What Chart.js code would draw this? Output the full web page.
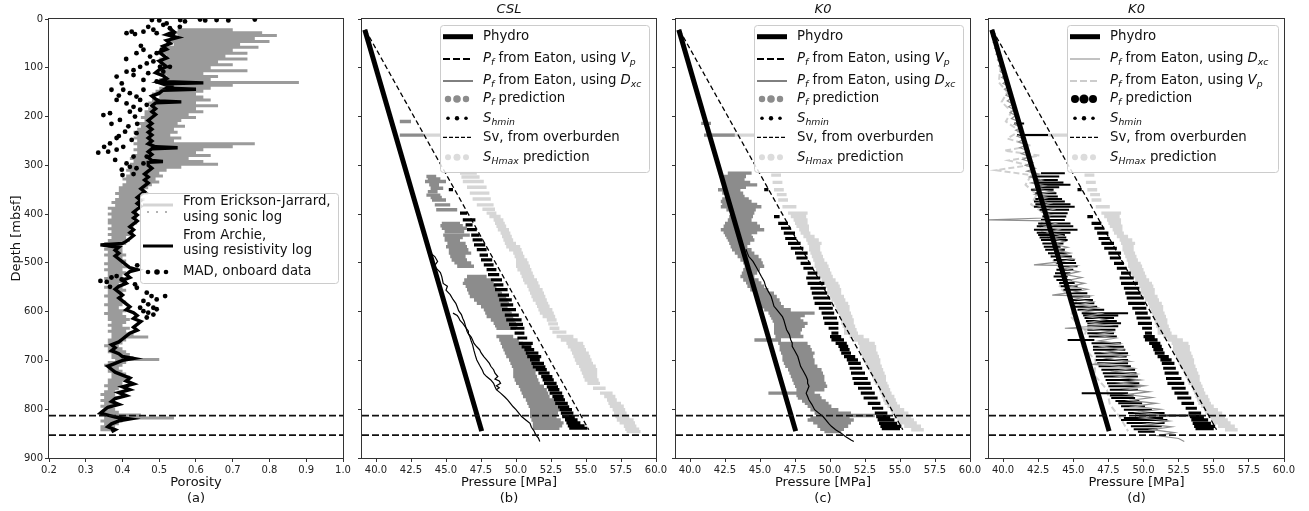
<!DOCTYPE html>
<html>
<head>
<meta charset="utf-8">
<script src="https://cdn.jsdelivr.net/npm/chart.js@4.4.1/dist/chart.umd.min.js"></script>
<style>
  html, body { margin: 0; padding: 0; background: #fff; }
  #wrap { position: relative; width: 1309px; height: 511px; overflow: hidden; }
  canvas { position: absolute; top: 0; }
</style>
</head>
<body>
<div id="wrap">
  <canvas id="pa" width="360" height="511" style="left:0px"></canvas>
  <canvas id="pb" width="340" height="511" style="left:340px"></canvas>
  <canvas id="pc" width="340" height="511" style="left:654px"></canvas>
  <canvas id="pd" width="342" height="511" style="left:967px"></canvas>
</div>
<script>
// ---- ticks / limits ----
const depthTicks = [0, 100, 200, 300, 400, 500, 600, 700, 800, 900];
const porosityTicks = [0.2, 0.3, 0.4, 0.5, 0.6, 0.7, 0.8, 0.9, 1.0];
const pressureTicks = [40, 42.5, 45, 47.5, 50, 52.5, 55, 57.5, 60];
const cutDepths = [813, 853];

// ---- panel (a): porosity  [depth, lo, hi] / [depth, value] ----
const ejRows = [
  [22,0.55,0.70],[28,0.54,0.78],[34,0.55,0.82],[40,0.53,0.76],[46,0.52,0.80],[52,0.54,0.72],[58,0.52,0.77],
  [64,0.50,0.70],[70,0.51,0.74],[76,0.52,0.68],[82,0.50,0.74],[88,0.51,0.66],[94,0.50,0.70],[100,0.52,0.64],
  [106,0.50,0.74],[112,0.51,0.62],[118,0.52,0.66],[124,0.50,0.64],[130,0.51,0.88],[136,0.52,0.70],[142,0.50,0.64],
  [148,0.49,0.62],[154,0.48,0.60],[160,0.50,0.62],[166,0.48,0.64],[172,0.47,0.60],[178,0.48,0.66],[184,0.47,0.60],
  [190,0.46,0.62],[196,0.46,0.58],[202,0.45,0.60],[208,0.46,0.56],[214,0.44,0.55],[220,0.45,0.57],[226,0.44,0.54],
  [232,0.43,0.55],[238,0.44,0.53],[244,0.43,0.56],[250,0.44,0.54],[256,0.43,0.76],[262,0.44,0.70],[268,0.43,0.62],
  [274,0.44,0.60],[280,0.43,0.64],[286,0.42,0.58],[292,0.43,0.62],[298,0.42,0.66],[304,0.42,0.56],[310,0.41,0.52],
  [316,0.42,0.50],[322,0.41,0.51],[328,0.40,0.49],[334,0.41,0.50],[340,0.40,0.48],[346,0.39,0.47],[352,0.39,0.46],
  [358,0.38,0.47],[364,0.39,0.45],[370,0.38,0.46],[376,0.37,0.45],[382,0.38,0.44],[388,0.36,0.45],[394,0.37,0.44],
  [400,0.36,0.43],[406,0.37,0.44],[412,0.36,0.43],[418,0.36,0.44],[424,0.37,0.43],[430,0.36,0.42],[436,0.37,0.43],
  [442,0.36,0.42],[448,0.37,0.41],[454,0.36,0.42],[460,0.35,0.41],[466,0.36,0.40],[472,0.35,0.40],[478,0.36,0.40],
  [484,0.35,0.41],[490,0.36,0.40],[496,0.36,0.41],[502,0.35,0.40],[508,0.36,0.42],[514,0.35,0.40],[520,0.36,0.41],
  [526,0.36,0.40],[532,0.35,0.41],[538,0.36,0.40],[544,0.36,0.39],[550,0.35,0.40],[556,0.36,0.41],[562,0.36,0.40],
  [568,0.35,0.39],[574,0.36,0.40],[580,0.36,0.41],[586,0.35,0.40],[592,0.36,0.39],[598,0.36,0.41],[604,0.35,0.40],
  [610,0.36,0.41],[616,0.36,0.42],[622,0.37,0.41],[628,0.36,0.40],[634,0.37,0.42],[640,0.36,0.41],[646,0.37,0.43],
  [652,0.37,0.47],[658,0.36,0.41],[664,0.36,0.40],[670,0.35,0.39],[676,0.36,0.40],[682,0.36,0.41],[688,0.37,0.42],
  [694,0.37,0.43],[698,0.38,0.50],[704,0.36,0.41],[710,0.35,0.40],[716,0.36,0.39],[722,0.36,0.40],[728,0.37,0.41],
  [734,0.37,0.42],[740,0.36,0.41],[746,0.36,0.40],[752,0.35,0.40],[758,0.36,0.39],[764,0.35,0.38],[770,0.34,0.38],
  [776,0.35,0.39],[782,0.34,0.38],[788,0.35,0.38],[794,0.34,0.37],[800,0.35,0.38],[806,0.34,0.39],[812,0.35,0.45],
  [818,0.35,0.54],[824,0.34,0.40],[830,0.35,0.39],[836,0.34,0.38],[842,0.34,0.37]
];
const archieRows = [
  [20,0.53],[26,0.54],[32,0.52],[38,0.55],[44,0.52],[50,0.53],[56,0.51],[62,0.52],[68,0.50],[74,0.51],[80,0.52],
  [86,0.50],[92,0.51],[98,0.52],[104,0.50],[110,0.49],[116,0.51],[122,0.52],[128,0.50],[131,0.62],[133,0.51],
  [138,0.53],[142,0.52],[144,0.60],[146,0.51],[152,0.50],[158,0.48],[164,0.49],[168,0.50],[170,0.56],[172,0.49],
  [178,0.48],[184,0.49],[190,0.48],[196,0.49],[202,0.48],[208,0.47],[214,0.48],[220,0.47],[226,0.48],[232,0.47],
  [238,0.48],[244,0.47],[250,0.48],[256,0.47],[262,0.49],[264,0.55],[266,0.48],[272,0.47],[278,0.48],[284,0.47],
  [290,0.48],[292,0.51],[294,0.47],[300,0.47],[306,0.48],[312,0.47],[318,0.46],[324,0.47],[330,0.46],[336,0.47],
  [342,0.46],[348,0.45],[354,0.46],[360,0.45],[366,0.44],[372,0.45],[378,0.44],[384,0.45],[390,0.44],[396,0.43],
  [402,0.44],[408,0.43],[414,0.44],[420,0.43],[426,0.42],[432,0.43],[438,0.42],[444,0.43],[450,0.42],[456,0.41],
  [460,0.40],[463,0.34],[465,0.36],[468,0.39],[474,0.38],[480,0.39],[486,0.38],[492,0.39],[498,0.40],[504,0.41],
  [510,0.42],[514,0.44],[518,0.42],[524,0.41],[530,0.42],[536,0.40],[542,0.41],[548,0.39],[554,0.38],[560,0.39],
  [566,0.40],[572,0.39],[578,0.40],[584,0.41],[590,0.42],[596,0.41],[602,0.43],[608,0.44],[614,0.43],[620,0.45],
  [626,0.44],[632,0.43],[638,0.44],[644,0.42],[650,0.41],[656,0.40],[662,0.39],[668,0.37],[674,0.38],[680,0.37],
  [686,0.39],[692,0.40],[696,0.43],[700,0.40],[706,0.38],[712,0.36],[718,0.37],[724,0.38],[730,0.40],[736,0.42],
  [742,0.41],[748,0.43],[754,0.40],[760,0.42],[766,0.39],[772,0.41],[778,0.38],[784,0.37],[790,0.39],[796,0.36],
  [802,0.35],[808,0.34],[812,0.36],[816,0.38],[820,0.42],[824,0.39],[830,0.37],[836,0.36],[842,0.38],[846,0.37]
];
const madRows = [
  [2,0.48],[3,0.50],[9,0.52],[2,0.557],[5,0.57],[1,0.611],[3,0.625],[2,0.656],[3,0.688],[1,0.76],
  [29,0.411],[26,0.425],[31,0.434],[26,0.457],[16,0.47],[22,0.484],[29,0.493],[12,0.511],[19,0.529],[29,0.538],[16,0.556],
  [70,0.438],[63,0.457],[77,0.475],[70,0.493],[63,0.507],[91,0.466],[87,0.484],[98,0.502],[55,0.45],[82,0.41],[105,0.43],
  [118,0.384],[132,0.398],[108,0.411],[115,0.43],[98,0.448],[125,0.457],[111,0.47],[128,0.493],[108,0.511],[98,0.529],
  [145,0.37],[145,0.402],[152,0.42],[159,0.438],[145,0.457],[166,0.384],[173,0.411],[180,0.43],[166,0.448],[176,0.466],
  [157,0.39],[190,0.42],[197,0.348],[193,0.366],[207,0.393],[220,0.416],[200,0.434],[186,0.448],[231,0.407],[215,0.37],
  [215,0.44],[240,0.39],[244,0.384],[255,0.366],[274,0.334],[272,0.361],[268,0.384],[262,0.402],[248,0.425],[234,0.438],
  [282,0.43],[296,0.411],[289,0.38],[262,0.35],[309,0.398],[303,0.42],[306,0.438],[296,0.457],[282,0.466],[320,0.40],
  [318,0.43],[539,0.357],[530,0.37],[527,0.384],[534,0.398],[549,0.366],[541,0.407],[544,0.434],[551,0.439],[505,0.44],
  [561,0.466],[568,0.479],[575,0.493],[568,0.516],[578,0.457],[585,0.47],[592,0.484],[595,0.493],[592,0.448],[599,0.457],
  [602,0.47],[606,0.484],[612,0.466],[537,0.34]
];

// ---- pressure panels: [depth, MPa] lines and [depth, lo, hi] streaks ----
const hydroRows = [[22, 39.2], [845, 47.55]];
const svRows = [[22, 39.24], [842, 55.2]];

const pfCslRows = [
  [210,41.7,42.5],[238,41.7,43.4],[323,43.6,44.3],[328,43.7,44.6],[333,43.5,45.0],[340,43.8,44.5],[347,43.9,44.8],
  [354,43.7,44.4],[361,43.6,44.6],[366,43.9,44.7],[371,44.0,45.0],[381,44.2,45.3],[391,44.3,45.8],[419,44.7,46.0],
  [424,44.6,46.2],[429,44.7,46.5],[436,44.9,46.3],[443,44.8,46.7],[448,44.9,46.2],[453,44.9,46.0],[460,45.1,46.4],
  [467,45.0,46.5],[473,45.2,46.6],[480,45.2,46.8],[487,45.3,46.4],[494,45.4,46.5],[500,45.6,46.8],[507,45.8,47.0],
  [528,46.5,47.9],[535,46.3,48.2],[542,46.2,48.4],[548,46.4,48.6],[555,46.5,48.9],[562,46.6,49.0],[569,46.7,49.3],
  [576,47.0,49.4],[583,47.2,49.5],[590,47.5,49.4],[596,47.7,49.6],[603,47.8,49.7],[610,47.9,49.8],[617,48.2,49.9],
  [624,48.4,50.0],[629,48.5,50.1],[634,48.6,50.0],[651,48.6,49.8],[658,48.8,50.2],[665,48.9,50.5],[672,49.0,50.6],
  [678,49.1,50.8],[685,49.2,50.9],[692,49.3,51.0],[699,49.5,51.1],[706,49.6,51.2],[712,49.7,51.3],[719,49.8,51.4],
  [726,49.8,51.4],[733,49.8,51.5],[740,49.9,51.6],[747,50.0,51.7],[753,50.2,52.0],[760,50.3,52.2],[767,50.4,52.3],
  [774,50.5,52.4],[781,50.7,52.7],[788,50.8,52.9],[794,50.9,53.0],[801,51.0,53.1],[808,51.0,53.0],[815,51.0,52.9],
  [822,51.1,53.2],[828,51.2,53.4],[834,51.2,53.3],[839,51.2,53.1]
];
const shminCslRows = [
  [350,45.2,45.5],[398,46.0,46.5],[412,46.2,47.1],[422,46.4,46.9],[432,46.5,47.2],[443,46.8,47.4],[453,46.9,47.6],
  [463,47.0,47.8],[473,47.2,47.9],[484,47.4,48.0],[494,47.5,48.3],[504,47.7,48.4],[514,47.9,48.6],[524,48.0,48.8],
  [535,48.2,49.0],[545,48.4,49.1],[555,48.5,49.4],[566,48.7,49.5],[576,48.8,49.7],[586,48.9,49.8],[596,49.0,50.0],
  [607,49.2,50.2],[617,49.3,50.4],[626,49.5,50.5],[634,49.6,50.6],[644,49.9,50.6],[654,50.1,50.8],[665,50.2,51.2],
  [672,50.4,51.1],[678,50.6,51.3],[685,50.7,51.6],[692,50.8,51.8],[699,51.0,51.7],[706,51.1,52.0],[713,51.2,52.1],
  [719,51.4,52.2],[726,51.6,52.4],[733,51.8,52.6],[740,51.9,52.7],[747,52.0,52.9],[754,52.2,53.0],[760,52.3,53.1],
  [767,52.4,53.3],[774,52.6,53.4],[781,52.7,53.5],[788,52.8,53.7],[795,53.0,53.8],[801,53.1,54.0],[808,53.2,54.1],
  [815,53.3,54.2],[822,53.5,54.4],[828,53.6,54.6],[834,53.7,54.9],[839,53.8,55.1]
];
const shmaxCslRows = [
  [238,43.4,44.6],[316,46.0,47.2],[324,46.1,47.4],[333,46.2,47.7],[345,46.5,47.9],[357,46.7,48.1],[369,46.9,48.2],
  [381,47.2,48.4],[390,47.6,48.5],[398,47.9,48.6],[405,48.1,48.9],[412,48.4,49.1],[419,48.5,49.2],[425,48.6,49.3],
  [432,48.7,49.5],[439,48.9,49.6],[446,49.0,49.7],[453,49.1,49.8],[460,49.2,50.0],[467,49.3,50.3],[473,49.5,50.4],
  [480,49.8,50.5],[487,49.9,50.6],[494,50.0,50.8],[500,50.0,50.9],[507,50.0,51.0],[514,50.1,51.1],[521,50.3,51.2],
  [528,50.4,51.3],[535,50.5,51.5],[541,50.6,51.6],[548,50.8,51.7],[555,50.9,51.9],[562,51.0,52.0],[569,51.1,52.1],
  [576,51.2,52.2],[583,51.4,52.3],[589,51.5,52.4],[596,51.6,52.6],[603,51.7,52.7],[610,51.9,52.8],[617,52.2,52.9],
  [625,52.3,53.0],[634,52.4,53.1],[642,52.6,53.6],[651,52.9,54.1],[658,53.2,54.4],[665,53.6,54.8],[672,53.7,54.9],
  [678,53.9,55.0],[685,54.0,55.2],[692,54.1,55.3],[699,54.2,55.4],[706,54.3,55.5],[712,54.5,55.7],[719,54.6,55.8],
  [726,54.7,55.8],[733,54.8,55.8],[740,54.9,55.9],[747,55.1,56.0],[757,55.5,56.4],[767,56.0,56.9],[774,56.3,57.1],
  [781,56.5,57.2],[788,56.6,57.5],[794,56.7,57.7],[801,56.9,57.8],[808,57.0,57.9],[815,57.1,58.1],[822,57.2,58.4],
  [828,57.4,58.5],[835,57.7,58.6],[841,57.8,58.8],[846,57.9,58.9]
];
const dxcCslLeft = [
  [474,43.7],[480,43.9],[487,44.2],[497,44.4],[505,44.2],[511,44.3],[520,44.6],[528,44.7],[542,44.8],[548,45.1],
  [556,45.0],[565,45.3],[575,45.5],[583,45.7],[590,45.8],[598,45.9],[606,46.1],[614,46.2],[620,46.3],[630,46.4],
  [640,46.5],[651,46.7],[660,46.8],[668,46.9],[680,47.0],[690,47.1],[699,47.2],[710,47.4],[720,47.6],[727,47.7],
  [733,47.9],[740,48.2],[747,48.4],[754,48.5],[760,48.6],[767,48.9],[775,49.2],[781,49.4],[788,49.6],[795,49.8],
  [801,50.0],[808,50.2],[815,50.4],[822,50.7],[829,51.0],[837,51.1],[845,51.3],[852,51.4],[859,51.6],[866,51.7]
];
const dxcCslRight = [
  [603,45.5],[608,45.8],[612,45.9],[618,46.0],[624,46.2],[632,46.4],[640,46.6],[645,46.6],[652,46.8],[658,46.9],
  [665,47.0],[672,47.2],[678,47.4],[684,47.5],[692,47.7],[699,47.9],[706,48.1],[712,48.2],[719,48.4],[726,48.5],
  [733,48.7],[738,48.5],[742,48.8],[747,48.9],[752,48.6],[756,48.8],[760,48.6]
];

const pfK0Rows = [
  [214,40.8,41.5],[238,41.0,43.2],[316,42.7,44.4],[323,42.4,44.0],[330,42.2,43.9],[335,42.4,44.3],[340,42.5,44.8],
  [345,42.3,44.0],[350,42.0,43.6],[357,42.3,43.8],[364,42.5,43.9],[369,42.3,44.2],[374,42.2,44.4],[380,42.3,44.8],
  [385,42.2,45.1],[391,42.6,44.7],[398,42.9,44.6],[405,42.8,44.5],[412,42.7,44.4],[419,42.5,44.8],[425,42.4,45.0],
  [432,42.2,45.3],[438,42.4,44.8],[443,42.5,44.4],[448,42.6,44.5],[453,42.7,44.6],[460,42.8,44.3],[467,42.9,44.1],
  [473,43.0,44.4],[480,43.2,44.6],[487,43.4,44.9],[494,43.6,45.1],[500,43.8,45.2],[507,43.9,45.3],[514,43.8,45.0],
  [521,43.7,44.8],[528,43.6,44.6],[535,43.8,44.9],[541,44.0,45.1],[548,44.1,45.3],[555,44.3,45.6],[562,44.6,46.0],
  [569,44.7,46.2],[576,44.8,46.4],[583,44.8,46.5],[590,45.0,46.7],[596,45.3,47.2],[603,45.6,48.9],[608,45.7,48.2],
  [613,45.8,47.9],[619,45.9,48.1],[624,46.0,48.4],[630,46.0,48.2],[637,46.0,48.0],[644,46.0,47.9],[651,46.1,48.1],
  [658,44.6,46.5],[665,46.3,48.4],[672,46.4,48.6],[678,46.4,48.7],[685,46.5,48.9],[692,46.6,48.8],[699,46.6,48.9],
  [706,46.7,48.9],[712,46.8,49.1],[719,47.0,49.4],[726,47.1,49.5],[733,47.2,49.6],[740,47.3,49.6],[747,47.4,49.7],
  [753,47.5,49.8],[760,47.6,49.6],[767,45.6,48.9],[772,47.6,49.3],[777,47.7,49.4],[783,48.0,49.7],[788,48.2,49.9],
  [794,48.4,50.1],[801,48.6,50.6],[808,48.9,51.5],[813,49.4,53.2],[818,48.6,51.4],[822,48.4,51.7],[828,48.8,51.5],
  [835,49.1,51.3],[841,49.3,51.0],[846,49.6,50.8]
];
const shminK0Rows = [
  [350,45.3,45.6],[405,46.0,46.4],[419,46.3,47.0],[429,46.5,47.2],[439,46.7,47.5],[450,46.8,47.6],[460,47.0,47.9],
  [470,47.2,48.1],[480,47.5,48.4],[490,47.6,48.4],[501,47.9,48.6],[511,48.1,48.8],[521,48.4,49.1],[531,48.3,49.3],
  [542,48.4,49.6],[552,48.6,49.7],[562,48.7,49.8],[572,48.8,50.0],[583,48.9,50.1],[593,49.2,50.2],[603,49.4,50.3],
  [613,49.5,50.5],[624,49.6,50.6],[634,49.9,50.6],[644,50.1,50.6],[651,50.0,50.8],[658,50.1,51.0],[665,50.4,51.2],
  [671,50.6,51.3],[678,50.7,51.4],[685,50.8,51.5],[692,51.0,51.8],[699,51.2,52.0],[706,51.3,52.2],[716,51.4,52.3],
  [726,51.5,52.5],[737,51.6,52.7],[747,51.7,52.9],[757,52.0,53.0],[767,52.2,53.2],[777,52.4,53.4],[788,52.7,53.6],
  [798,53.0,53.8],[808,53.2,54.1],[815,53.3,54.3],[822,53.4,54.6],[829,53.5,54.8],[835,53.6,55.1],[840,53.7,55.0]
];
const shmaxK0Rows = [
  [238,41.3,44.6],[320,45.8,46.5],[335,45.9,46.6],[350,46.0,46.7],[360,46.2,46.9],[371,46.3,47.0],[385,46.6,47.6],
  [398,47.0,48.4],[405,47.2,48.3],[412,47.4,48.4],[419,47.5,48.4],[425,47.6,48.5],[432,47.8,48.5],[439,47.9,48.6],
  [446,48.1,48.9],[453,48.3,49.2],[460,48.4,49.4],[467,48.5,49.3],[473,48.5,49.3],[480,48.6,49.4],[487,48.7,49.5],
  [494,48.8,49.6],[501,48.9,49.8],[507,48.9,49.9],[514,49.0,50.0],[521,49.1,50.1],[528,49.2,50.2],[535,49.4,50.4],
  [542,49.6,50.6],[548,49.7,50.7],[555,49.8,50.8],[562,49.8,50.8],[569,50.0,51.0],[576,50.1,51.1],[583,50.3,51.3],
  [590,50.4,51.4],[596,50.5,51.4],[603,50.6,51.5],[610,50.7,51.6],[617,50.8,51.7],[624,50.8,51.7],[630,50.9,51.8],
  [637,51.0,51.9],[644,51.0,52.0],[651,51.4,52.4],[658,51.7,52.8],[665,52.0,53.2],[672,52.1,53.3],[678,52.1,53.3],
  [685,52.2,53.4],[692,52.3,53.5],[699,52.4,53.6],[706,52.5,53.6],[712,52.6,53.7],[719,52.8,53.8],[726,52.9,53.9],
  [733,53.0,54.0],[740,53.1,54.0],[747,53.2,54.1],[753,53.4,54.2],[760,53.5,54.3],[767,53.6,54.4],[774,53.7,54.6],
  [781,53.8,54.7],[788,53.9,54.8],[794,54.1,55.0],[801,54.3,55.3],[808,54.4,55.6],[815,54.6,55.8],[822,54.8,56.0],
  [828,55.0,56.2],[835,55.3,56.5],[842,55.8,56.7]
];
const dxcK0Rows = [
  [472,44.0],[480,44.1],[487,44.2],[497,44.5],[507,44.7],[517,44.9],[528,45.1],[538,45.3],[548,45.4],[559,45.6],
  [569,45.8],[579,45.9],[589,46.0],[596,46.2],[603,46.4],[610,46.6],[617,46.7],[627,46.8],[637,46.9],[647,47.1],
  [658,47.2],[664,47.3],[671,47.3],[681,47.5],[692,47.7],[702,47.8],[712,47.9],[722,48.1],[733,48.3],[740,48.4],
  [747,48.4],[753,48.5],[760,48.4],[767,48.3],[774,48.4],[781,48.5],[790,48.7],[801,48.9],[808,49.2],[815,49.5],
  [822,49.7],[829,49.9],[835,50.1],[842,50.4],[849,50.8],[856,51.1],[863,51.5],[866,51.7]
];
// panel (d) Eaton curves
const dxcDRows = [
  [22,39.2],[30,39.4],[36,39.2],[42,39.5],[48,39.3],[54,39.6],[60,39.4],[66,39.7],[72,39.5],[78,39.8],[84,39.6],
  [90,39.9],[96,39.7],[102,40.0],[108,39.8],[114,40.2],[120,39.9],[126,40.3],[132,40.0],[138,40.4],[144,40.1],
  [150,40.5],[156,40.2],[162,40.6],[168,40.3],[174,40.7],[180,40.4],[186,40.8],[192,40.5],[198,40.9],[204,40.6],
  [210,41.1],[216,40.8],[222,41.3],[228,40.9],[234,41.4],[240,41.0],[246,41.5],[252,41.1],[258,41.7],[264,41.2],
  [270,41.8],[276,41.3],[282,41.9],[288,41.4],[294,42.1],[300,41.6],[306,42.3],[312,41.7],[318,42.6],[324,41.9],
  [330,42.8],[336,42.0],[342,43.0],[348,42.2],[354,43.5],[360,42.3],[366,43.2],[372,42.5],[378,43.4],[384,42.6],
  [390,43.6],[396,42.8],[402,43.5],[408,42.9],[412,39.0],[414,43.1],[420,43.8],[426,43.0],[432,44.0],[438,43.2],
  [444,44.2],[450,43.4],[456,44.4],[462,43.5],[468,44.6],[474,43.7],[480,44.8],[486,43.9],[492,45.0],[498,44.0],
  [504,42.2],[506,45.2],[512,44.3],[518,45.4],[524,44.4],[530,45.6],[536,44.6],[542,45.8],[548,44.8],[554,46.0],
  [560,45.0],[566,43.5],[568,46.2],[574,45.2],[580,46.4],[586,45.4],[592,46.7],[598,45.6],[604,47.0],[610,45.9],
  [616,47.3],[622,46.1],[628,47.5],[634,44.4],[636,46.3],[642,47.8],[648,46.5],[654,48.0],[660,46.8],[666,48.3],
  [672,47.0],[678,48.5],[684,47.2],[690,48.8],[696,47.4],[702,49.0],[708,46.3],[710,47.6],[716,49.3],[722,47.9],
  [728,49.5],[734,48.1],[740,49.8],[746,48.3],[752,50.1],[758,48.6],[764,50.4],[770,48.8],[776,50.6],[782,49.0],
  [788,50.9],[794,49.3],[800,51.2],[806,49.6],[812,51.5],[818,49.9],[824,51.8],[830,50.2],[836,52.0],[842,50.6],
  [848,52.2],[854,51.0],[860,52.5],[866,52.9]
];
const vpDRows = [
  [22,39.2],[60,39.5],[100,39.8],[130,39.7],[150,40.3],[170,39.9],[190,40.6],[210,40.2],[230,41.2],[245,40.3],
  [260,42.0],[270,40.1],[280,42.6],[290,40.4],[300,41.8],[310,39.5],[320,42.0],[340,41.6],[360,42.4],[380,42.0],
  [400,43.0],[430,42.6],[460,43.6],[490,43.4],[520,44.4],[550,44.0],[580,45.2],[610,44.8],[640,45.9],[670,45.6],
  [700,46.6],[730,46.5],[760,47.4],[790,47.6],[820,48.4],[845,48.9]
];

// ---- helpers ----
Chart.defaults.font.family = "'DejaVu Sans', sans-serif";

const streaks = rows => {
  const out = [];
  rows.forEach(([d, lo, hi]) => out.push({x: lo, y: d}, {x: hi, y: d}, {x: NaN, y: NaN}));
  return out;
};
const pts = rows => rows.map(([d, v]) => ({x: v, y: d}));

function streakSet(rows, color, width, order) {
  return {data: streaks(rows), showLine: true, borderColor: color, borderWidth: width,
          pointRadius: 0, order: order, spanGaps: false};
}
function lineSet(rows, color, width, order, dash) {
  return {data: pts(rows), showLine: true, borderColor: color, borderWidth: width,
          pointRadius: 0, order: order, borderDash: dash || []};
}
function cutSets(xMin, xMax) {
  return cutDepths.map(d => ({data: [{x: xMin, y: d}, {x: xMax, y: d}], showLine: true,
    borderColor: '#111', borderWidth: 1.8, borderDash: [7, 3], pointRadius: 0, order: 0}));
}

function drawRich(ctx, segs, x, y, size) {
  let cx = x;
  segs.forEach(([t, st]) => {
    const it = st.includes('i'), sub = st.includes('s');
    const fs = sub ? size * 0.7 : size;
    ctx.font = (it ? 'italic ' : '') + fs + "px 'DejaVu Sans'";
    ctx.fillText(t, cx, y + (sub ? size * 0.3 : 0));
    cx += ctx.measureText(t).width;
  });
}
function drawHandle(ctx, h, x, y) {
  if (h.type === 'line') {
    ctx.beginPath();
    ctx.setLineDash(h.dash || []);
    ctx.lineWidth = h.width;
    ctx.strokeStyle = h.color;
    ctx.moveTo(x, y); ctx.lineTo(x + 30, y);
    ctx.stroke();
    ctx.setLineDash([]);
  } else {
    ctx.fillStyle = h.color;
    [5, 14, 23].forEach((dx, i) => {
      ctx.beginPath(); ctx.arc(x + dx, y, h.r[i], 0, Math.PI * 2); ctx.fill();
    });
  }
}

// frame + legend drawn on top of the chart
const panelDecor = {
  id: 'panelDecor',
  afterDraw(chart, args, opts) {
    const {ctx, chartArea: a} = chart;
    ctx.save();
    ctx.strokeStyle = '#333';
    ctx.lineWidth = 1;
    ctx.strokeRect(Math.round(a.left) - 0.5, Math.round(a.top) - 0.5,
                   Math.round(a.right - a.left) + 1, Math.round(a.bottom - a.top) + 1);
    const lg = opts.legend;
    if (lg) {
      const bx = a.right - lg.right - lg.width, by = a.top + lg.top;
      ctx.beginPath();
      ctx.roundRect(bx + 0.5, by + 0.5, lg.width, lg.height, 3);
      ctx.fillStyle = 'rgba(255,255,255,0.85)';
      ctx.fill();
      ctx.strokeStyle = '#cccccc';
      ctx.lineWidth = 1;
      ctx.stroke();
      ctx.textBaseline = 'middle';
      lg.entries.forEach(e => {
        e.handles.forEach(h => drawHandle(ctx, h, bx + 3, by + h.dy));
        e.lines.forEach(([segs, ly]) => { ctx.fillStyle = '#111'; drawRich(ctx, segs, bx + 43, by + ly, 13.3); });
      });
    }
    ctx.restore();
  }
};

const gridOpts = {drawOnChartArea: false, drawTicks: true, tickLength: 4, color: '#333', lineWidth: 1};

function makePanel(id, p) {
  new Chart(document.getElementById(id), {
    type: 'scatter',
    data: {datasets: p.datasets},
    plugins: [panelDecor],
    options: {
      responsive: false, animation: false, devicePixelRatio: 1, events: [],
      layout: {padding: {top: p.title ? 0 : 19, right: p.padRight, left: 0, bottom: 0}},
      plugins: {
        legend: {display: false},
        tooltip: {enabled: false},
        title: p.title ? {display: true, text: p.title, fullSize: false, color: '#111',
                          font: {size: 13, style: 'italic', weight: 'normal'},
                          padding: {top: 1.4, bottom: 2}} : {display: false},
        panelDecor: {legend: p.legend}
      },
      scales: {
        x: {
          type: 'linear', min: p.xMin, max: p.xMax,
          afterBuildTicks: s => { s.ticks = p.xTicks.map(v => ({value: v})); },
          afterFit: s => { s.height = 53; },
          ticks: {autoSkip: false, maxRotation: 0, font: {size: 10}, color: '#222', padding: 2,
                  callback: v => v.toFixed(1)},
          grid: gridOpts,
          border: {display: false},
          title: {display: true, text: [p.xTitle, p.tag], color: '#111', font: {size: 13},
                  padding: {top: 0, bottom: 5}}
        },
        y: {
          type: 'linear', reverse: true, min: 0, max: 900,
          afterBuildTicks: s => { s.ticks = depthTicks.map(v => ({value: v})); },
          afterFit: s => { s.width = p.yWidth; },
          ticks: {autoSkip: false, font: {size: 10}, color: '#222', padding: 2,
                  callback: v => p.depthLabels ? String(v) : ''},
          grid: gridOpts,
          border: {display: false},
          title: p.depthLabels ? {display: true, text: 'Depth [mbsf]', color: '#111', font: {size: 13},
                                  padding: {top: 9, bottom: 0}} : {display: false}
        }
      }
    }
  });
}

// ---- legends ----
const T = s => [[s, '']];
const PF = [['P', 'i'], ['f', 'is']];
const stdEntries = (dxcHandle, vpHandle, pfR, pfColor, swap) => {
  const vp = {handles: [Object.assign({dy: 34}, vpHandle)],
              lines: [[PF.concat([[' from Eaton, using ', ''], ['V', 'i'], ['p', 'is']]), 34]]};
  const dx = {handles: [Object.assign({dy: 56}, dxcHandle)],
              lines: [[PF.concat([[' from Eaton, using ', ''], ['D', 'i'], ['xc', 'is']]), 56]]};
  if (swap) { vp.handles[0].dy = 56; vp.lines[0][1] = 56; dx.handles[0].dy = 34; dx.lines[0][1] = 34; }
  return [
    {handles: [{type: 'line', color: '#000', width: 5, dy: 11.7}], lines: [[T('Phydro'), 11.7]]},
    vp, dx,
    {handles: [{type: 'dots', color: pfColor, r: pfR, dy: 74}], lines: [[PF.concat([[' prediction', '']]), 74]]},
    {handles: [{type: 'dots', color: '#000', r: [1.8, 2.2, 1.8], dy: 93.3}],
     lines: [[[['S', 'i'], ['hmin', 'is']], 93.3]]},
    {handles: [{type: 'line', color: '#000', width: 1.3, dash: [4, 2], dy: 112.3}],
     lines: [[T('Sv, from overburden'), 112.3]]},
    {handles: [{type: 'dots', color: '#dcdcdc', r: [3, 3.5, 3], dy: 132.3}],
     lines: [[[['S', 'i'], ['Hmax', 'is'], [' prediction', '']], 132.3]]}
  ];
};
const legendBC = {right: 7, top: 6, width: 209, height: 147,
  entries: stdEntries({type: 'line', color: '#000', width: 1}, {type: 'line', color: '#000', width: 2, dash: [7, 3]},
                      [3.2, 3.8, 3.2], '#8c8c8c', false)};
const legendD = {right: 6, top: 6, width: 211, height: 147,
  entries: stdEntries({type: 'line', color: '#999', width: 1.2}, {type: 'line', color: '#cccccc', width: 2, dash: [7, 3]},
                      [4, 4.6, 4], '#000', true)};
const legendA = {right: 5, top: 174, width: 198, height: 90, entries: [
  {handles: [{type: 'line', color: '#d4d4d4', width: 3, dy: 12}, {type: 'dots', color: '#999', r: [1, 1, 1], dy: 19}],
   lines: [[T('From Erickson-Jarrard,'), 8.7], [T('using sonic log'), 25]]},
  {handles: [{type: 'line', color: '#000', width: 3, dy: 53}],
   lines: [[T('From Archie,'), 43], [T('using resistivity log'), 58]]},
  {handles: [{type: 'dots', color: '#000', r: [2.3, 2.8, 2.3], dy: 79}], lines: [[T('MAD, onboard data'), 79]]}
]};

// ---- panels ----
makePanel('pa', {
  xMin: 0.2, xMax: 1.0, xTicks: porosityTicks, xTitle: 'Porosity', tag: '(a)',
  yWidth: 49, padRight: 17, depthLabels: true, legend: legendA,
  datasets: [
    ...cutSets(0.2, 1.0),
    {data: pts(madRows), showLine: false, pointRadius: 2.4, pointBackgroundColor: '#000',
     pointBorderWidth: 0, order: 1},
    lineSet(archieRows, '#000', 3.4, 2),
    streakSet(ejRows, '#9b9b9b', 3, 3)
  ]
});

makePanel('pb', {
  xMin: 39, xMax: 60, xTicks: pressureTicks, xTitle: 'Pressure [MPa]', tag: '(b)', title: 'CSL',
  yWidth: 22, padRight: 24, depthLabels: false, legend: legendBC,
  datasets: [
    ...cutSets(39, 60),
    lineSet(hydroRows, '#000', 5, 1),
    lineSet(svRows, '#000', 1.3, 2, [5, 3]),
    lineSet(dxcCslLeft, '#000', 1.2, 3),
    lineSet(dxcCslRight, '#000', 1.2, 3),
    streakSet(shminCslRows, '#000', 3.2, 4),
    streakSet(pfCslRows, '#8c8c8c', 3.4, 5),
    streakSet(shmaxCslRows, '#d6d6d6', 3.4, 6)
  ]
});

makePanel('pc', {
  xMin: 39, xMax: 60, xTicks: pressureTicks, xTitle: 'Pressure [MPa]', tag: '(c)', title: 'K0',
  yWidth: 22, padRight: 24, depthLabels: false, legend: legendBC,
  datasets: [
    ...cutSets(39, 60),
    lineSet(hydroRows, '#000', 5, 1),
    lineSet(svRows, '#000', 1.3, 2, [5, 3]),
    lineSet(dxcK0Rows, '#000', 1.2, 3),
    streakSet(shminK0Rows, '#000', 3.2, 4),
    streakSet(pfK0Rows, '#8c8c8c', 3.4, 5),
    streakSet(shmaxK0Rows, '#d6d6d6', 3.4, 6)
  ]
});

makePanel('pd', {
  xMin: 39, xMax: 60, xTicks: pressureTicks, xTitle: 'Pressure [MPa]', tag: '(d)', title: 'K0',
  yWidth: 22, padRight: 25, depthLabels: false, legend: legendD,
  datasets: [
    ...cutSets(39, 60),
    lineSet(svRows, '#000', 1.3, 1, [5, 3]),
    lineSet(hydroRows, '#000', 5, 2),
    streakSet(shminK0Rows, '#000', 3.2, 3),
    lineSet(dxcDRows, '#8f8f8f', 1.2, 4),
    streakSet(pfK0Rows, '#000', 2, 5),
    lineSet(vpDRows, '#cfcfcf', 2, 6, [6, 3]),
    streakSet(shmaxK0Rows, '#d6d6d6', 3.4, 7)
  ]
});
</script>
</body>
</html>
